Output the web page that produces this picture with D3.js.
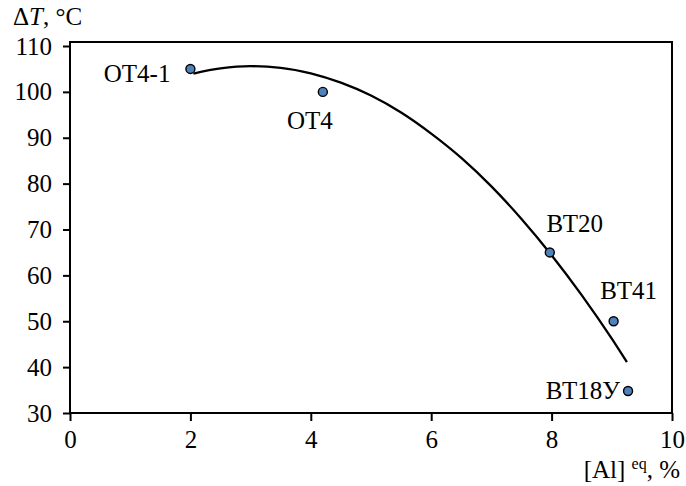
<!DOCTYPE html>
<html>
<head>
<meta charset="utf-8">
<script src="https://cdn.jsdelivr.net/npm/d3@7"></script>
<style>
  body { margin: 0; background: #fff; }
  svg text { font-family: "Times New Roman", "Liberation Serif", Tinos, "DejaVu Serif", serif; fill: #000; }
</style>
</head>
<body>
<svg width="686" height="486"></svg>
<script>
// measured alloys
var alloys = ["ОТ4-1", "ОТ4", "ВТ20", "ВТ41", "ВТ18У"]
var alEq = [2.0, 4.2, 7.97, 9.03, 9.27]
var deltaT = [105, 100, 65, 50, 34.8]

// trend curve
var curveX = [2.05, 2.5, 3, 3.5, 4, 4.5, 5, 5.5, 6, 6.5, 7, 7.5, 8, 8.5, 9, 9.25]
var curveY = [104.0, 105.1, 105.6, 105.25, 104.05, 102.0, 99.2, 95.5, 90.9, 85.6, 79.4, 72.3, 64.4, 55.7, 46.2, 41.1]

var xTicks = [0, 2, 4, 6, 8, 10]
var yTicks = [30, 40, 50, 60, 70, 80, 90, 100, 110]

// label offsets from each point: [dx, dy, anchor]
var labelPos = [[-20, 13, "end"], [-13, 37, "middle"], [25, -20, "middle"], [15, -22, "middle"], [-8, 8, "end"]]

var fs = 25

var svg = d3.select("svg")
var x = d3.scaleLinear().domain([0, 10]).range([70, 672])
var y = d3.scaleLinear().domain([30, 110]).range([413, 46])

function styleAxis(g) {
  g.attr("font-family", null)
  g.select(".domain").remove()
  g.selectAll("line").attr("stroke", "#000").attr("stroke-width", 2)
  g.selectAll("text").attr("font-size", fs)
}

svg.append("g")
  .attr("transform", "translate(0,413)")
  .call(d3.axisBottom(x).tickValues(xTicks).tickSize(8).tickPadding(9).tickFormat(d3.format("d")))
  .call(styleAxis)

svg.append("g")
  .attr("transform", "translate(70,0)")
  .call(d3.axisLeft(y).tickValues(yTicks).tickSize(7).tickPadding(11).tickFormat(d3.format("d")))
  .call(styleAxis)

// plot frame (top edge sits a little above 110 as in the original)
svg.append("rect")
  .attr("x", x(0)).attr("y", y(110) - 4)
  .attr("width", x(10) - x(0)).attr("height", y(30) - y(110) + 4)
  .attr("fill", "none").attr("stroke", "#000").attr("stroke-width", 2)

var line = d3.line()
  .x(function (d, i) { return x(curveX[i]) })
  .y(function (d, i) { return y(curveY[i]) })
  .curve(d3.curveMonotoneX)

svg.append("path")
  .attr("d", line(curveX))
  .attr("fill", "none").attr("stroke", "#000").attr("stroke-width", 2.3)

svg.selectAll("circle.pt")
  .data(alloys)
  .enter().append("circle")
  .attr("class", "pt")
  .attr("cx", function (d, i) { return x(alEq[i]) })
  .attr("cy", function (d, i) { return y(deltaT[i]) })
  .attr("r", 4.5)
  .attr("fill", "#4f81bd")
  .attr("stroke", "#000")
  .attr("stroke-width", 1.4)

svg.selectAll("text.lbl")
  .data(alloys)
  .enter().append("text")
  .attr("class", "lbl")
  .attr("x", function (d, i) { return x(alEq[i]) + labelPos[i][0] })
  .attr("y", function (d, i) { return y(deltaT[i]) + labelPos[i][1] })
  .attr("text-anchor", function (d, i) { return labelPos[i][2] })
  .attr("font-size", fs)
  .text(function (d) { return d })

var yt = svg.append("text").attr("x", 13).attr("y", 25).attr("font-size", fs)
yt.append("tspan").text("Δ")
yt.append("tspan").attr("font-style", "italic").text("T")
yt.append("tspan").text(", °C")

var xt = svg.append("text").attr("x", 680).attr("y", 478).attr("font-size", fs).attr("text-anchor", "end")
xt.append("tspan").text("[Al] ")
xt.append("tspan").attr("font-size", 16).attr("dy", -9).text("eq")
xt.append("tspan").attr("dy", 9).text(", %")
</script>
</body>
</html>
